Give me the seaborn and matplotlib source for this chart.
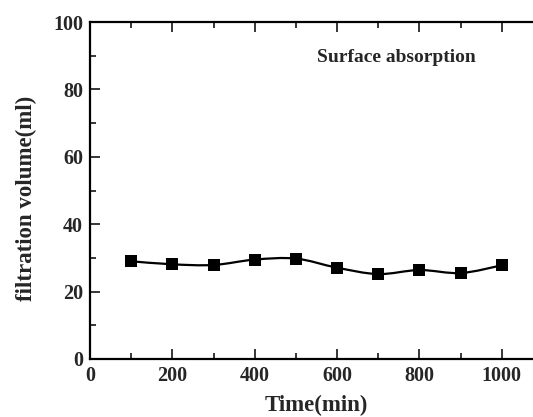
import numpy as np
import matplotlib
matplotlib.use("Agg")
import matplotlib.pyplot as plt
from matplotlib.path import Path
from matplotlib.patches import PathPatch
from matplotlib.ticker import MultipleLocator
import seaborn as sns
import pandas as pd

time_min = [100, 200, 300, 400, 500, 600, 700, 800, 900, 1000]
volume_ml = [29.0, 28.1, 27.9, 29.5, 29.8, 27.1, 25.2, 26.4, 25.5, 27.8]
annotation = "Surface absorption"
x_label = "Time(min)"
y_label = "filtration volume(ml)"

sns.set_style("ticks")
plt.rcParams['font.family'] = ['Liberation Serif', 'DejaVu Serif']
plt.rcParams['font.weight'] = 'bold'

fig = plt.figure(figsize=(5.33, 4.17), dpi=100)
W, H = 533, 417
# axes: x=0 at px 90, 1000 at ~502; the axes run to the right image edge
px_per = 0.4117
x0, x1 = 90, 533
xmax = (x1 - x0) / px_per
ax = fig.add_axes([x0 / W, (H - 359) / H, (x1 - x0) / W, (359 - 22) / H])
ax.patch.set_visible(False)

df = pd.DataFrame({"t": time_min, "v": volume_ml})

# smooth curve through points (Catmull-Rom as cubic Bezier path)
xs = np.array(time_min, float)
ys = np.array(volume_ml, float)
verts = [(xs[0], ys[0])]
codes = [Path.MOVETO]
n = len(xs)
for i in range(n - 1):
    p0 = np.array([xs[max(i - 1, 0)], ys[max(i - 1, 0)]])
    p1 = np.array([xs[i], ys[i]])
    p2 = np.array([xs[i + 1], ys[i + 1]])
    p3 = np.array([xs[min(i + 2, n - 1)], ys[min(i + 2, n - 1)]])
    c1 = p1 + (p2 - p0) / 6.0
    c2 = p2 - (p3 - p1) / 6.0
    verts += [tuple(c1), tuple(c2), tuple(p2)]
    codes += [Path.CURVE4] * 3
ax.add_patch(PathPatch(Path(verts, codes), facecolor='none', edgecolor='black',
                       lw=1.6, transform=ax.transData, zorder=2))

sns.scatterplot(data=df, x="t", y="v", marker="s", color="black", s=70,
                edgecolor="black", linewidth=0, ax=ax, zorder=3)

ax.set_xlim(0, xmax)
ax.set_ylim(0, 100)
ax.set_xticks([0, 200, 400, 600, 800, 1000])
ax.xaxis.set_minor_locator(MultipleLocator(100))
ax.yaxis.set_major_locator(MultipleLocator(20))
ax.yaxis.set_minor_locator(MultipleLocator(10))
ax.tick_params(which='both', direction='in', top=True, right=False, width=1.3,
               labelsize=14.5)
ax.tick_params(axis='y', pad=5)
ax.tick_params(axis='x', pad=5)
ax.tick_params(which='major', length=7.5)
ax.tick_params(which='minor', length=4)
for lab in ax.get_xticklabels() + ax.get_yticklabels():
    lab.set_fontweight('bold')
ax.spines['right'].set_visible(False)
for s in ax.spines.values():
    s.set_linewidth(1.6)
    s.set_color('black')

ax.set_xlabel(x_label, fontsize=16.5, fontweight='bold', va='center')
ax.set_ylabel(y_label, fontsize=16.5, fontweight='bold', va='center')
ax.xaxis.set_label_coords(((316.5 - x0) / (x1 - x0)), (359 - 405) / 337)
ax.yaxis.set_label_coords((26 - x0) / (x1 - x0), (359 - 198) / 337)
ax.text((396 - x0) / px_per, (359 - 58) / 3.37, annotation, fontsize=14,
        fontweight='bold', ha='center', va='center')

fig.savefig("out.png", dpi=100)
